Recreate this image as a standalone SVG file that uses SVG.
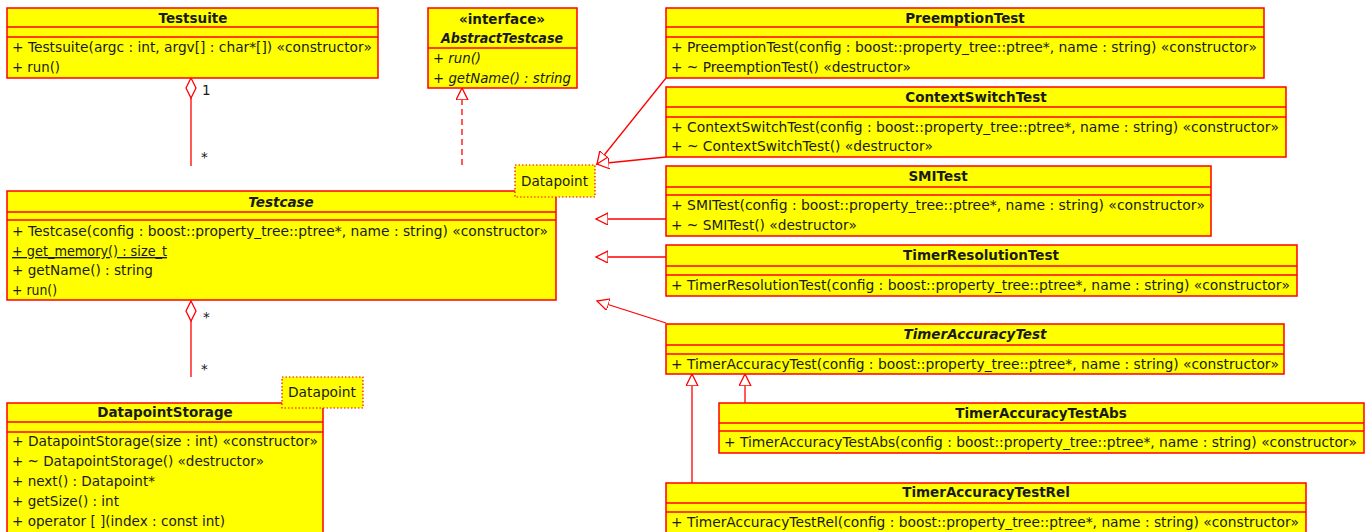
<svg xmlns="http://www.w3.org/2000/svg" width="1369" height="532" viewBox="0 0 1369 532">
  <style>
    .box { fill: #ffff00; stroke: #ff0000; stroke-width: 1.5; }
    .sep { stroke: #ff0000; stroke-width: 1.5; }
    .note { fill: #ffff00; stroke: #ff0000; stroke-width: 1.2; stroke-dasharray: 1.5 2; }
    .title { font-family: "DejaVu Sans", sans-serif; font-size: 13.5px; font-weight: bold; fill: #1a1a1a; text-anchor: middle; }
    .ital { font-style: italic; }
    .mem { font-family: "DejaVu Sans", sans-serif; font-size: 13.5px; fill: #1a1a1a; }
    .lbl { font-family: "DejaVu Sans", sans-serif; font-size: 13.5px; fill: #1a1a1a; }
    .edge { fill: none; stroke: #ff0000; stroke-width: 1.3; }
    .dash { stroke-dasharray: 6 4; }
    .diamond { fill: #ffffff; stroke: #ff0000; stroke-width: 1.3; }
  </style>
  <defs>
    <marker id="gen" markerUnits="userSpaceOnUse" markerWidth="14" markerHeight="14" refX="12" refY="6" orient="auto">
      <path d="M0,0 L12,6 L0,12 Z" fill="#ffffff" stroke="#ff0000" stroke-width="1.3"/>
    </marker>
  </defs>

  <rect width="1369" height="532" fill="#ffffff"/>

  <!-- connectors -->
  <g id="connectors">
    <!-- aggregation Testsuite <>- Testcase -->
    <path class="edge" d="M191,98 L191,166"/>
    <polygon class="diamond" points="191,78 196,88 191,98 186,88"/>
    <text class="lbl" x="202" y="95">1</text>
    <text class="lbl" x="201" y="162">*</text>
    <!-- aggregation Testcase <>- DatapointStorage -->
    <path class="edge" d="M191,321 L191,377"/>
    <polygon class="diamond" points="191,301 196,311 191,321 186,311"/>
    <text class="lbl" x="203" y="322">*</text>
    <text class="lbl" x="201" y="374">*</text>
    <!-- realization Testcase -> AbstractTestcase -->
    <path class="edge dash" d="M462,165 L462,88" marker-end="url(#gen)"/>
    <!-- generalizations toward Testcase -->
    <path class="edge" d="M666,78 L597,164" marker-end="url(#gen)"/>
    <path class="edge" d="M666,157 L597,164" marker-end="url(#gen)"/>
    <path class="edge" d="M666,219 L596,219" marker-end="url(#gen)"/>
    <path class="edge" d="M666,257 L596,257" marker-end="url(#gen)"/>
    <path class="edge" d="M666,323 L597,301" marker-end="url(#gen)"/>
    <!-- generalizations toward TimerAccuracyTest -->
    <path class="edge" d="M745,403 L745,374" marker-end="url(#gen)"/>
    <path class="edge" d="M692,483 L692,374" marker-end="url(#gen)"/>
  </g>

  <g id="Testsuite">
    <rect class="box" x="7" y="8" width="371" height="70"/>
    <line class="sep" x1="7" y1="27" x2="378" y2="27"/>
    <line class="sep" x1="7" y1="37" x2="378" y2="37"/>
    <text class="title" x="193" y="23">Testsuite</text>
    <text class="mem" x="12" y="52" textLength="360" lengthAdjust="spacingAndGlyphs">+ Testsuite(argc : int, argv[] : char*[]) «constructor»</text>
    <text class="mem" x="12" y="72" textLength="48" lengthAdjust="spacingAndGlyphs">+ run()</text>
  </g>

  <g id="AbstractTestcase">
    <rect class="box" x="428" y="8" width="149" height="80"/>
    <line class="sep" x1="428" y1="48" x2="577" y2="48"/>
    <text class="title" x="502" y="24">«interface»</text>
    <text class="title ital" x="502" y="43" textLength="122" lengthAdjust="spacingAndGlyphs">AbstractTestcase</text>
    <text class="mem ital" x="433" y="63" textLength="48" lengthAdjust="spacingAndGlyphs">+ run()</text>
    <text class="mem ital" x="433" y="83" textLength="138" lengthAdjust="spacingAndGlyphs">+ getName() : string</text>
  </g>

  <g id="Testcase">
    <rect class="box" x="7" y="191" width="549" height="109"/>
    <line class="sep" x1="7" y1="212" x2="556" y2="212"/>
    <line class="sep" x1="7" y1="220" x2="556" y2="220"/>
    <text class="title ital" x="281" y="207">Testcase</text>
    <text class="mem" x="12" y="236" textLength="536" lengthAdjust="spacingAndGlyphs">+ Testcase(config : boost::property_tree::ptree*, name : string) «constructor»</text>
    <text class="mem" x="12" y="256" text-decoration="underline" textLength="155" lengthAdjust="spacingAndGlyphs">+ get_memory() : size_t</text>
    <text class="mem" x="12" y="275" textLength="141" lengthAdjust="spacingAndGlyphs">+ getName() : string</text>
    <text class="mem" x="12" y="295" textLength="45" lengthAdjust="spacingAndGlyphs">+ run()</text>
  </g>

  <g id="note-testcase">
    <rect class="note" x="515" y="165" width="80" height="32"/>
    <text class="lbl" x="521" y="186" textLength="67" lengthAdjust="spacingAndGlyphs">Datapoint</text>
  </g>

  <g id="DatapointStorage">
    <rect class="box" x="7" y="403" width="316" height="140"/>
    <line class="sep" x1="7" y1="422" x2="323" y2="422"/>
    <line class="sep" x1="7" y1="432" x2="323" y2="432"/>
    <text class="title" x="165" y="417">DatapointStorage</text>
    <text class="mem" x="12" y="446" textLength="306" lengthAdjust="spacingAndGlyphs">+ DatapointStorage(size : int) «constructor»</text>
    <text class="mem" x="12" y="466" textLength="252" lengthAdjust="spacingAndGlyphs">+ ~ DatapointStorage() «destructor»</text>
    <text class="mem" x="12" y="486" textLength="143" lengthAdjust="spacingAndGlyphs">+ next() : Datapoint*</text>
    <text class="mem" x="12" y="506" textLength="107" lengthAdjust="spacingAndGlyphs">+ getSize() : int</text>
    <text class="mem" x="12" y="526" textLength="213" lengthAdjust="spacingAndGlyphs">+ operator [ ](index : const int)</text>
  </g>

  <g id="note-storage">
    <rect class="note" x="282" y="377" width="81" height="31"/>
    <text class="lbl" x="288" y="397" textLength="68" lengthAdjust="spacingAndGlyphs">Datapoint</text>
  </g>

  <g id="PreemptionTest">
    <rect class="box" x="666" y="8" width="598" height="70"/>
    <line class="sep" x1="666" y1="27" x2="1264" y2="27"/>
    <line class="sep" x1="666" y1="37" x2="1264" y2="37"/>
    <text class="title" x="965" y="23">PreemptionTest</text>
    <text class="mem" x="671" y="52" textLength="586" lengthAdjust="spacingAndGlyphs">+ PreemptionTest(config : boost::property_tree::ptree*, name : string) «constructor»</text>
    <text class="mem" x="671" y="72" textLength="240" lengthAdjust="spacingAndGlyphs">+ ~ PreemptionTest() «destructor»</text>
  </g>

  <g id="ContextSwitchTest">
    <rect class="box" x="666" y="87" width="620" height="70"/>
    <line class="sep" x1="666" y1="107" x2="1286" y2="107"/>
    <line class="sep" x1="666" y1="117" x2="1286" y2="117"/>
    <text class="title" x="976" y="102">ContextSwitchTest</text>
    <text class="mem" x="671" y="132" textLength="608" lengthAdjust="spacingAndGlyphs">+ ContextSwitchTest(config : boost::property_tree::ptree*, name : string) «constructor»</text>
    <text class="mem" x="671" y="151" textLength="262" lengthAdjust="spacingAndGlyphs">+ ~ ContextSwitchTest() «destructor»</text>
  </g>

  <g id="SMITest">
    <rect class="box" x="666" y="166" width="545" height="70"/>
    <line class="sep" x1="666" y1="187" x2="1211" y2="187"/>
    <line class="sep" x1="666" y1="195" x2="1211" y2="195"/>
    <text class="title" x="938" y="181">SMITest</text>
    <text class="mem" x="671" y="210" textLength="534" lengthAdjust="spacingAndGlyphs">+ SMITest(config : boost::property_tree::ptree*, name : string) «constructor»</text>
    <text class="mem" x="671" y="230" textLength="186" lengthAdjust="spacingAndGlyphs">+ ~ SMITest() «destructor»</text>
  </g>

  <g id="TimerResolutionTest">
    <rect class="box" x="666" y="245" width="631" height="51"/>
    <line class="sep" x1="666" y1="266" x2="1297" y2="266"/>
    <line class="sep" x1="666" y1="275" x2="1297" y2="275"/>
    <text class="title" x="981" y="260">TimerResolutionTest</text>
    <text class="mem" x="671" y="290" textLength="619" lengthAdjust="spacingAndGlyphs">+ TimerResolutionTest(config : boost::property_tree::ptree*, name : string) «constructor»</text>
  </g>

  <g id="TimerAccuracyTest">
    <rect class="box" x="666" y="324" width="618" height="50"/>
    <line class="sep" x1="666" y1="345" x2="1284" y2="345"/>
    <line class="sep" x1="666" y1="354" x2="1284" y2="354"/>
    <text class="title ital" x="975" y="339">TimerAccuracyTest</text>
    <text class="mem" x="671" y="369" textLength="608" lengthAdjust="spacingAndGlyphs">+ TimerAccuracyTest(config : boost::property_tree::ptree*, name : string) «constructor»</text>
  </g>

  <g id="TimerAccuracyTestAbs">
    <rect class="box" x="719" y="403" width="645" height="50"/>
    <line class="sep" x1="719" y1="423" x2="1364" y2="423"/>
    <line class="sep" x1="719" y1="431" x2="1364" y2="431"/>
    <text class="title" x="1041" y="418">TimerAccuracyTestAbs</text>
    <text class="mem" x="724" y="447" textLength="633" lengthAdjust="spacingAndGlyphs">+ TimerAccuracyTestAbs(config : boost::property_tree::ptree*, name : string) «constructor»</text>
  </g>

  <g id="TimerAccuracyTestRel">
    <rect class="box" x="666" y="483" width="640" height="60"/>
    <line class="sep" x1="666" y1="503" x2="1306" y2="503"/>
    <line class="sep" x1="666" y1="512" x2="1306" y2="512"/>
    <text class="title" x="986" y="497">TimerAccuracyTestRel</text>
    <text class="mem" x="671" y="527" textLength="628" lengthAdjust="spacingAndGlyphs">+ TimerAccuracyTestRel(config : boost::property_tree::ptree*, name : string) «constructor»</text>
  </g>
</svg>
